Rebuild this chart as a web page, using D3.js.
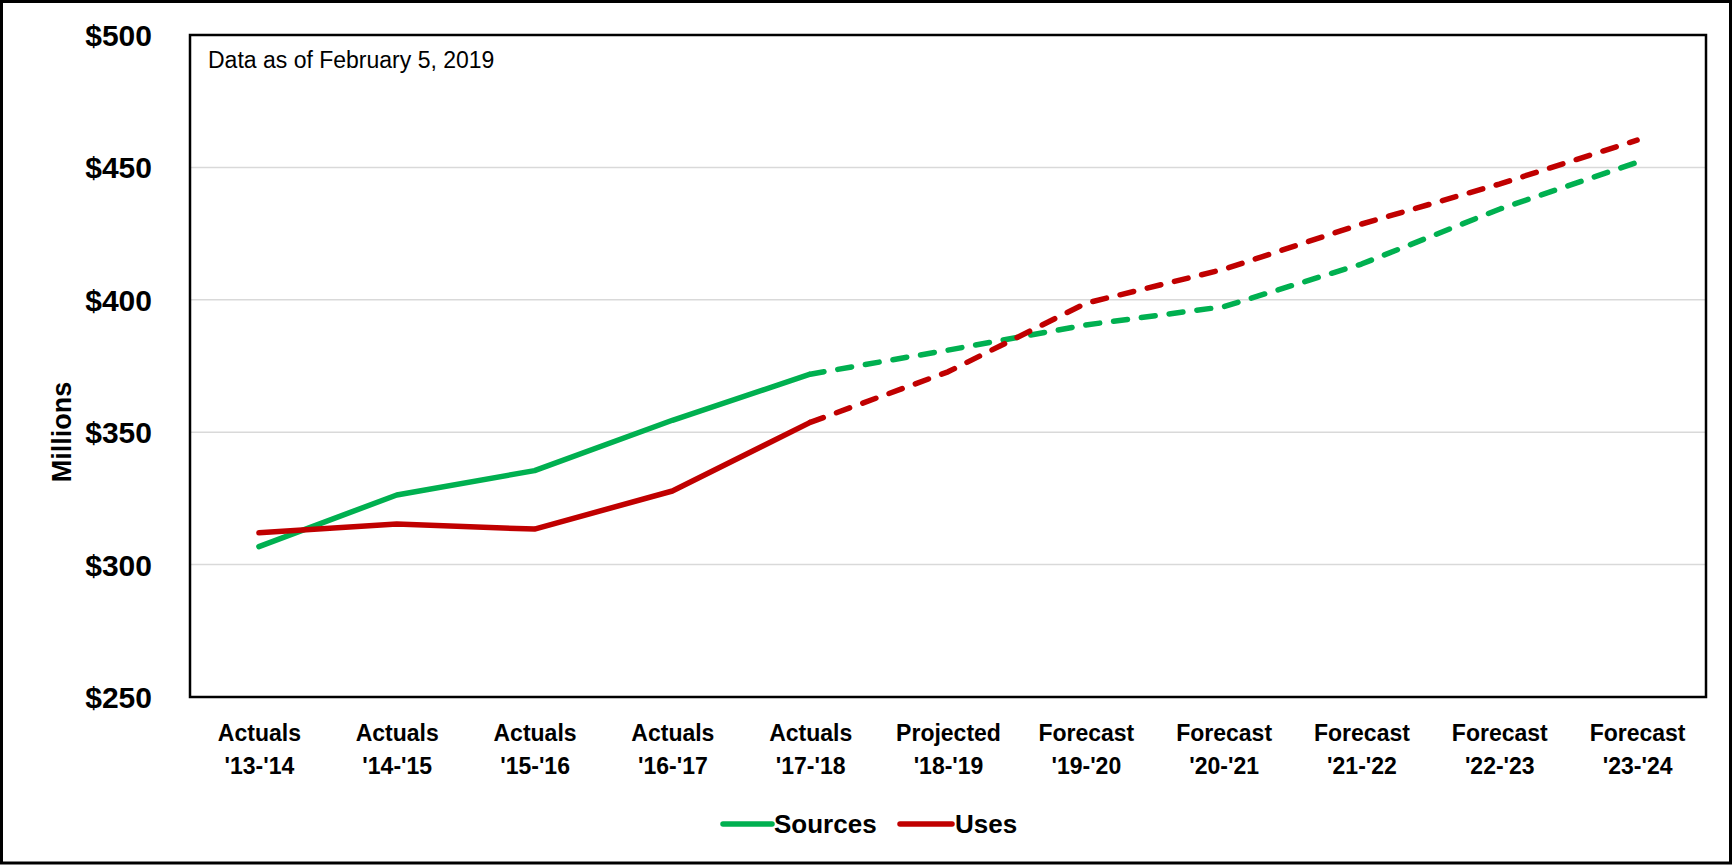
<!DOCTYPE html>
<html><head><meta charset="utf-8">
<script src="https://cdn.jsdelivr.net/npm/d3@7"></script>
<style>html,body{margin:0;padding:0;background:#fff;} svg{display:block;}</style>
</head><body><svg id="chart" width="1732" height="865"></svg>
<script>
const periodTypes = ["Actuals","Actuals","Actuals","Actuals","Actuals","Projected","Forecast","Forecast","Forecast","Forecast","Forecast"];
const fiscalYears = ["'13-'14","'14-'15","'15-'16","'16-'17","'17-'18","'18-'19","'19-'20","'20-'21","'21-'22","'22-'23","'23-'24"];
const sources = [306.8, 326.3, 335.5, 354.5, 371.9, 381.0, 390.5, 397.4, 413.5, 434.2, 451.9];
const uses    = [312.0, 315.3, 313.4, 327.8, 353.7, 372.8, 398.7, 411.5, 428.6, 443.7, 460.3];
const yTicks = [250, 300, 350, 400, 450, 500];
const lastActualIndex = 4;
const seriesNames = ["Sources", "Uses"];
const seriesColors = ["#00B050", "#C00000"];
const noteText = "Data as of February 5, 2019";
const yTitle = "Millions";

const W = 1732, H = 865;
const plot = {left: 190, top: 35, right: 1706, bottom: 697};
const FONT = "'Liberation Sans', Arial, sans-serif";

const svg = d3.select("#chart");
svg.append("rect").attr("x",1.5).attr("y",1.5).attr("width",W-3).attr("height",H-3.5)
  .attr("fill","#fff").attr("stroke","#000").attr("stroke-width",3);

const categories = periodTypes.map((t,i)=> t + "|" + fiscalYears[i]);
const x = d3.scalePoint().domain(categories).range([plot.left, plot.right]).padding(0.5);
const y = d3.scaleLinear().domain([yTicks[0], yTicks[yTicks.length-1]]).range([plot.bottom, plot.top]);

// gridlines
svg.append("g").selectAll("line").data(yTicks.slice(1,-1)).join("line")
  .attr("x1",plot.left).attr("x2",plot.right)
  .attr("y1",d=>y(d)).attr("y2",d=>y(d))
  .attr("stroke","#D9D9D9").attr("stroke-width",1.5);

// y axis labels
const yAxis = d3.axisLeft(y).tickValues(yTicks).tickSize(0).tickPadding(0).tickFormat(d=>"$"+d);
const gy = svg.append("g").attr("transform",`translate(${plot.left-38},0)`).call(yAxis);
gy.select(".domain").remove();
gy.selectAll("text").attr("font-family",FONT).attr("font-size",30).attr("font-weight","bold")
  .attr("fill","#000").attr("dy","0.35em");

// x axis labels
const xAxis = d3.axisBottom(x).tickSize(0).tickFormat("");
const gx = svg.append("g").attr("transform",`translate(0,${plot.bottom})`).call(xAxis);
gx.select(".domain").remove();
gx.selectAll(".tick").each(function(d){
  const parts = d.split("|");
  const t = d3.select(this).append("text").attr("font-family",FONT).attr("font-size",23)
    .attr("font-weight","bold").attr("fill","#000").attr("text-anchor","middle");
  t.append("tspan").attr("x",0).attr("y",44).text(parts[0]);
  t.append("tspan").attr("x",0).attr("y",77).text(parts[1]);
});

// y title
svg.append("text").attr("transform",`translate(71,432) rotate(-90)`)
  .attr("text-anchor","middle").attr("font-family",FONT).attr("font-size",27)
  .attr("font-weight","bold").attr("fill","#000").text(yTitle);

// note
svg.append("text").attr("x",208).attr("y",68).attr("font-family",FONT).attr("font-size",23)
  .attr("fill","#000").text(noteText);

// clip paths
const defs = svg.append("defs");
const xSplit = x(categories[lastActualIndex]);
defs.append("clipPath").attr("id","clipSolid").append("rect")
  .attr("x",0).attr("y",0).attr("width",xSplit).attr("height",H);
defs.append("clipPath").attr("id","clipDash").append("rect")
  .attr("x",xSplit).attr("y",0).attr("width",W-xSplit).attr("height",H);

const line = d3.line().x((d,i)=>x(categories[i])).y(d=>y(d)).curve(d3.curveLinear);
const allSeries = [sources, uses];
allSeries.forEach((vals, si) => {
  svg.append("path").datum(vals).attr("d",line).attr("fill","none")
    .attr("stroke",seriesColors[si]).attr("stroke-width",5.5)
    .attr("stroke-linejoin","round").attr("stroke-linecap","round")
    .attr("clip-path","url(#clipSolid)");
  svg.append("path").datum(vals.slice(lastActualIndex)).attr("d",
      d3.line().x((d,i)=>x(categories[i+lastActualIndex])).y(d=>y(d)))
    .attr("fill","none")
    .attr("stroke",seriesColors[si]).attr("stroke-width",5.5)
    .attr("stroke-linejoin","round")
    .attr("stroke-linecap","round").attr("stroke-dasharray","14,14");
});

// plot border
svg.append("rect").attr("x",plot.left).attr("y",plot.top)
  .attr("width",plot.right-plot.left).attr("height",plot.bottom-plot.top)
  .attr("fill","none").attr("stroke","#000").attr("stroke-width",2.5);

// legend
const legendItems = [{x1:723, x2:772, tx:774}, {x1:900, x2:952, tx:955}];
legendItems.forEach((p, i) => {
  const g = svg.append("g");
  g.append("line").attr("x1",p.x1).attr("x2",p.x2).attr("y1",824).attr("y2",824)
    .attr("stroke",seriesColors[i]).attr("stroke-width",5.5).attr("stroke-linecap","round");
  g.append("text").attr("x",p.tx).attr("y",833).attr("font-family",FONT).attr("font-size",26)
    .attr("font-weight","bold").attr("fill","#000").text(seriesNames[i]);
});
</script></body></html>
